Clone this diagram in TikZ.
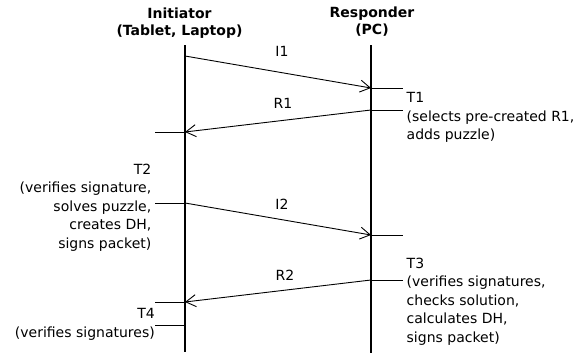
\documentclass[tikz,border=0pt]{standalone}
\usepackage{fontspec}
\setmainfont{DejaVu Sans}
\usetikzlibrary{arrows.meta}
\tikzset{
  lifeline/.style={line width=2.6pt},
  msg/.style={line width=0.9pt,-{Straight Barb[length=10pt,width=12pt,line width=0.9pt]}},
  tick/.style={line width=0.9pt},
  hdr/.style={font=\bfseries\fontsize{14}{17}\selectfont,align=center,inner sep=0pt,anchor=north},
  lbl/.style={font=\fontsize{14}{18.4}\selectfont,inner sep=0pt},
  noteL/.style={lbl,align=left,anchor=north west},
  noteR/.style={lbl,align=right,anchor=north east}
}
\begin{document}
\begin{tikzpicture}[x=1pt,y=-1pt]
\useasboundingbox (0,0) rectangle (587,356);
% headers
\node[hdr] (hI) at (179.5,7.2) {Initiator\\(Tablet, Laptop)};
\node[hdr] (hR) at (372,6.8) {Responder\\(PC)};
% lifelines
\coordinate (iTop) at (185,45);
\coordinate (iBot) at (185,352);
\coordinate (rTop) at (371,45);
\coordinate (rBot) at (371,353);
\draw[lifeline] (iTop) -- (iBot);
\draw[lifeline] (rTop) -- (rBot);
% event points
\coordinate (i1s) at (185,56);
\coordinate (i1e) at (371,88);
\coordinate (r1s) at (371,110);
\coordinate (r1e) at (185,132);
\coordinate (i2s) at (185,203);
\coordinate (i2e) at (371,235);
\coordinate (r2s) at (371,280);
\coordinate (r2e) at (185,302);
\coordinate (t4p) at (185,325);
% tick ends
\coordinate (k1) at (403,88);
\coordinate (k2) at (403,110);
\coordinate (k3) at (155,132);
\coordinate (k4) at (155,203);
\coordinate (k5) at (403,235);
\coordinate (k6) at (403,280);
\coordinate (k7) at (155,302);
\coordinate (k8) at (155,325);
% messages
\draw[msg] (i1s) -- (i1e);
\draw[msg] (r1s) -- (r1e);
\draw[msg] (i2s) -- (i2e);
\draw[msg] (r2s) -- (r2e);
% ticks
\draw[tick] (i1e) -- (k1);
\draw[tick] (r1s) -- (k2);
\draw[tick] (r1e) -- (k3);
\draw[tick] (i2s) -- (k4);
\draw[tick] (i2e) -- (k5);
\draw[tick] (r2s) -- (k6);
\draw[tick] (r2e) -- (k7);
\draw[tick] (t4p) -- (k8);
% message labels
\node[lbl] (lI1) at (282,51) {I1};
\node[lbl] (lR1) at (283,103) {R1};
\node[lbl] (lI2) at (282,204) {I2};
\node[lbl] (lR2) at (285,275.5) {R2};
% notes
\node[noteL] (nT1) at (406.5,92.3) {T1\\(selects pre-created R1,\\adds puzzle)};
\node[noteR] (nT2) at (151.5,164) {T2\\(verifies signature,\\solves puzzle,\\creates DH,\\signs packet)};
\node[noteL] (nT3) at (406.5,258) {T3\\(verifies signatures,\\checks solution,\\calculates DH,\\signs packet)};
\node[noteR] (nT4) at (155,308.2) {T4\\(verifies signatures)};
\end{tikzpicture}
\end{document}
